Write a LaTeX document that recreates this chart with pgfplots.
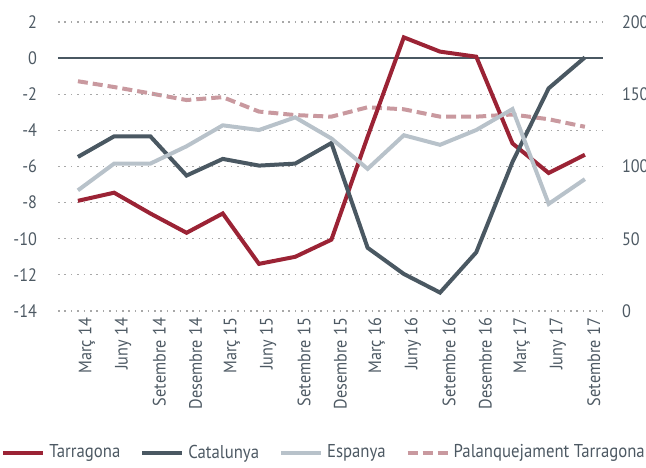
\documentclass[border=0pt]{standalone}
\usepackage{fontspec}
\setmainfont[FakeStretch=0.9]{PT Sans}
\usepackage{pgfplots}
\pgfplotsset{compat=1.18}
\definecolor{tarr}{HTML}{9B2335}
\definecolor{cat}{HTML}{4A5862}
\definecolor{esp}{HTML}{B8C2CA}
\definecolor{pal}{HTML}{C9999F}
\definecolor{txt}{HTML}{4D5963}
\definecolor{gridc}{HTML}{A8A8A8}
\begin{document}
\begin{tikzpicture}
\pgfplotsset{
  common/.style={
    at={(29pt,78pt)}, anchor=south west,
    scale only axis, width=272.5pt, height=144.5pt,
    xmin=-0.55, xmax=14.5,
    axis line style={draw=none}, tick style={draw=none},
    tick label style={font=\fontsize{9}{11}\selectfont, text=txt},
    /pgf/number format/assume math mode=true,
  }
}
\begin{axis}[common,
  ymin=0, ymax=200, ytick={0,50,...,200},
  axis y line*=right, hide x axis,
  yticklabel style={xshift=6pt},
]
\addplot[pal, line width=2pt, dash pattern=on 5pt off 2.5pt] coordinates {
(0,159) (1,155) (2,150.6) (3,146) (4,148) (5,138) (6,135.6) (7,134.5)
(8,141) (9,139.6) (10,134.5) (11,134.5) (12,136) (13,132.7) (14,127.5)};
\end{axis}
\begin{axis}[common,
  ymin=-14, ymax=2, ytick={-14,-12,...,2},
  ymajorgrids, major grid style={gridc, line width=0.6pt, dash pattern=on 0.8pt off 2.4pt},
  xtick={0,...,14},
  xticklabels={Març 14,Juny 14,Setembre 14,Desembre 14,Març 15,Juny 15,Setembre 15,Desembre 15,Març 16,Juny 16,Setembre 16,Desembre 16,Març 17,Juny 17,Setembre 17},
  xticklabel style={rotate=90, anchor=east, yshift=-4.5pt},
  yticklabel style={xshift=-7pt},
  legend style={at={(0.49,-0.491)}, anchor=center, draw=none, fill=none,
    legend columns=4, font=\fontsize{9.3}{11}\selectfont, text=txt,
    /tikz/every even column/.append style={column sep=8pt}},
  legend cell align=left,
  legend image code/.code={\draw[#1] (0pt,0pt) -- (20pt,0pt);},
]
\addplot[cat, line width=0.7pt, forget plot] coordinates {(-0.55,0) (14.5,0)};
\addplot[tarr, line width=2pt] coordinates {
(0,-7.9) (1,-7.45) (2,-8.6) (3,-9.67) (4,-8.6) (5,-11.39) (6,-11.0) (7,-10.05)
(8,-4.35) (9,1.15) (10,0.36) (11,0.08) (12,-4.72) (13,-6.36) (14,-5.35)};
\addlegendentry{Tarragona}
\addplot[cat, line width=2pt] coordinates {
(0,-5.47) (1,-4.33) (2,-4.33) (3,-6.5) (4,-5.58) (5,-5.95) (6,-5.84) (7,-4.7)
(8,-10.5) (9,-11.95) (10,-12.98) (11,-10.75) (12,-5.75) (13,-1.67) (14,0.04)};
\addlegendentry{Catalunya}
\addplot[esp, line width=2pt] coordinates {
(0,-7.32) (1,-5.84) (2,-5.84) (3,-4.88) (4,-3.72) (5,-3.98) (6,-3.28) (7,-4.45)
(8,-6.13) (9,-4.27) (10,-4.8) (11,-3.98) (12,-2.82) (13,-8.07) (14,-6.7)};
\addlegendentry{Espanya}
\addlegendimage{pal, line width=2pt, dash pattern=on 5pt off 2.5pt}
\addlegendentry{Palanquejament Tarragona}
\end{axis}
\pgfresetboundingbox
\useasboundingbox (0,0) rectangle (323pt,233.5pt);
\end{tikzpicture}
\end{document}
